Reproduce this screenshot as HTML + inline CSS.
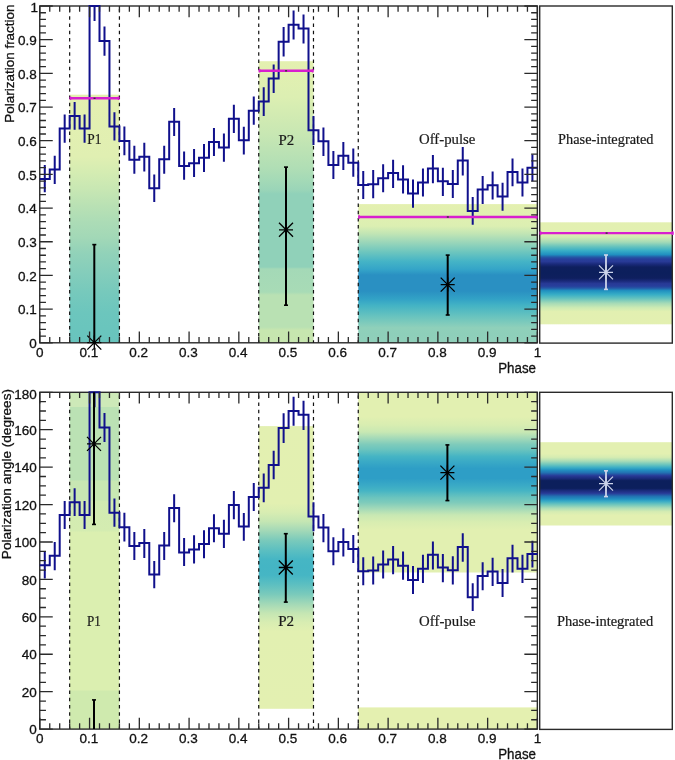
<!DOCTYPE html>
<html><head><meta charset="utf-8"><style>
html,body{margin:0;padding:0;background:#fff;}
svg{display:block;will-change:transform;}

</style></head><body>
<svg width="675" height="760" viewBox="0 0 675 760">
<defs><linearGradient id="gP1t" gradientUnits="userSpaceOnUse" x1="0" y1="94.7" x2="0" y2="342.8"><stop offset="0.0000" stop-color="#e4f0b0"/><stop offset="0.0004" stop-color="#e4f0b0"/><stop offset="0.2503" stop-color="#e0efb2"/><stop offset="0.3148" stop-color="#d4ecb2"/><stop offset="0.3793" stop-color="#c8e7b3"/><stop offset="0.4478" stop-color="#b9e1b4"/><stop offset="0.5123" stop-color="#acdcb6"/><stop offset="0.5768" stop-color="#a2d8b7"/><stop offset="0.6372" stop-color="#92d2b9"/><stop offset="0.7179" stop-color="#84cdbb"/><stop offset="0.7985" stop-color="#76c9bc"/><stop offset="0.8791" stop-color="#6cc6bd"/><stop offset="1.0000" stop-color="#68c4bd"/></linearGradient>
<linearGradient id="gP2t" gradientUnits="userSpaceOnUse" x1="0" y1="61.2" x2="0" y2="342.8"><stop offset="0.0000" stop-color="#e4f0b0"/><stop offset="0.1271" stop-color="#dcefb2"/><stop offset="0.1911" stop-color="#d2ebb2"/><stop offset="0.2585" stop-color="#c8e7b3"/><stop offset="0.3224" stop-color="#bbe2b4"/><stop offset="0.3793" stop-color="#b0deb5"/><stop offset="0.4290" stop-color="#a2d9b7"/><stop offset="0.4574" stop-color="#9ad5b8"/><stop offset="0.4716" stop-color="#90d1b9"/><stop offset="0.5994" stop-color="#90d1b9"/><stop offset="0.7308" stop-color="#90d1b9"/><stop offset="0.7379" stop-color="#a4d9b7"/><stop offset="0.8196" stop-color="#a8dbb6"/><stop offset="0.8303" stop-color="#b9e1b3"/><stop offset="0.9439" stop-color="#b9e1b3"/><stop offset="0.9545" stop-color="#c6e6af"/><stop offset="1.0000" stop-color="#c7e6af"/></linearGradient>
<linearGradient id="gOFt" gradientUnits="userSpaceOnUse" x1="0" y1="204.1" x2="0" y2="342.8"><stop offset="0.0000" stop-color="#e4f0b0"/><stop offset="0.1579" stop-color="#dcefb2"/><stop offset="0.2084" stop-color="#c4e6b4"/><stop offset="0.2588" stop-color="#a5dab8"/><stop offset="0.3439" stop-color="#6ec6be"/><stop offset="0.4124" stop-color="#45b4c6"/><stop offset="0.4722" stop-color="#34a4c8"/><stop offset="0.5112" stop-color="#2a90c2"/><stop offset="0.5689" stop-color="#2a90c2"/><stop offset="0.6265" stop-color="#2a90c2"/><stop offset="0.6842" stop-color="#32a2c6"/><stop offset="0.7347" stop-color="#45b4c4"/><stop offset="0.8140" stop-color="#6ac4be"/><stop offset="0.8911" stop-color="#8fd0ba"/><stop offset="0.9438" stop-color="#8ecfba"/><stop offset="1.0000" stop-color="#90d0ba"/></linearGradient>
<linearGradient id="gPIt" gradientUnits="userSpaceOnUse" x1="0" y1="222.3" x2="0" y2="324.3"><stop offset="0.0000" stop-color="#e3f0b1"/><stop offset="0.1108" stop-color="#e2f0b1"/><stop offset="0.1500" stop-color="#cceab3"/><stop offset="0.1941" stop-color="#a4dab7"/><stop offset="0.2382" stop-color="#66c3be"/><stop offset="0.2775" stop-color="#38aec6"/><stop offset="0.3167" stop-color="#2090c0"/><stop offset="0.3412" stop-color="#2458a6"/><stop offset="0.3608" stop-color="#273f9c"/><stop offset="0.3853" stop-color="#283a96"/><stop offset="0.4098" stop-color="#1a2a7a"/><stop offset="0.4392" stop-color="#0e1f5e"/><stop offset="0.4931" stop-color="#0c1f5c"/><stop offset="0.5471" stop-color="#0e1f5e"/><stop offset="0.5765" stop-color="#1a2a7a"/><stop offset="0.6010" stop-color="#283a96"/><stop offset="0.6255" stop-color="#273f9c"/><stop offset="0.6451" stop-color="#2458a6"/><stop offset="0.6696" stop-color="#2090c0"/><stop offset="0.7088" stop-color="#38aec6"/><stop offset="0.7480" stop-color="#66c3be"/><stop offset="0.7922" stop-color="#a4dab7"/><stop offset="0.8363" stop-color="#cceab3"/><stop offset="0.8755" stop-color="#e2f0b1"/><stop offset="1.0000" stop-color="#e3f0b1"/></linearGradient>
<linearGradient id="gP2b" gradientUnits="userSpaceOnUse" x1="0" y1="426.1" x2="0" y2="708.8"><stop offset="0.0000" stop-color="#e3f0b1"/><stop offset="0.2731" stop-color="#e2f0b1"/><stop offset="0.3049" stop-color="#d8edb2"/><stop offset="0.3368" stop-color="#c5e6b3"/><stop offset="0.3686" stop-color="#a4d9b7"/><stop offset="0.4040" stop-color="#7acabb"/><stop offset="0.4393" stop-color="#5cbfc1"/><stop offset="0.4712" stop-color="#46b6c4"/><stop offset="0.4995" stop-color="#44b5c4"/><stop offset="0.5278" stop-color="#46b6c4"/><stop offset="0.5596" stop-color="#5cbfc1"/><stop offset="0.5950" stop-color="#7acabb"/><stop offset="0.6304" stop-color="#a4d9b7"/><stop offset="0.6622" stop-color="#c5e6b3"/><stop offset="0.6940" stop-color="#d8edb2"/><stop offset="0.7259" stop-color="#e2f0b1"/><stop offset="1.0000" stop-color="#e3f0b1"/></linearGradient>
<linearGradient id="gOFb" gradientUnits="userSpaceOnUse" x1="0" y1="392.3" x2="0" y2="572.5"><stop offset="0.0000" stop-color="#e2f0b1"/><stop offset="0.1343" stop-color="#e2f0b1"/><stop offset="0.1815" stop-color="#d8edb1"/><stop offset="0.2203" stop-color="#c8e8b3"/><stop offset="0.2536" stop-color="#a5dab8"/><stop offset="0.2897" stop-color="#7ecbbb"/><stop offset="0.3174" stop-color="#6ac4be"/><stop offset="0.3563" stop-color="#45b4c4"/><stop offset="0.3840" stop-color="#3aaac6"/><stop offset="0.4229" stop-color="#2e9ec6"/><stop offset="0.4506" stop-color="#2e9ec6"/><stop offset="0.4784" stop-color="#2e9ec6"/><stop offset="0.5172" stop-color="#3aaac6"/><stop offset="0.5450" stop-color="#45b4c4"/><stop offset="0.5838" stop-color="#6ac4be"/><stop offset="0.6115" stop-color="#7ecbbb"/><stop offset="0.6476" stop-color="#a5dab8"/><stop offset="0.6809" stop-color="#c8e8b3"/><stop offset="0.7198" stop-color="#d8edb1"/><stop offset="0.7669" stop-color="#e2f0b1"/><stop offset="1.0000" stop-color="#e2f0b1"/></linearGradient>
<linearGradient id="gPIb" gradientUnits="userSpaceOnUse" x1="0" y1="442.2" x2="0" y2="525.5"><stop offset="0.0000" stop-color="#e3f0b1"/><stop offset="0.1381" stop-color="#e3f0b1"/><stop offset="0.1813" stop-color="#d5ecb2"/><stop offset="0.2245" stop-color="#acddb7"/><stop offset="0.2677" stop-color="#6ec6bd"/><stop offset="0.3085" stop-color="#36aac6"/><stop offset="0.3337" stop-color="#2290c0"/><stop offset="0.3661" stop-color="#2272b2"/><stop offset="0.4022" stop-color="#283a97"/><stop offset="0.4358" stop-color="#1a2b7a"/><stop offset="0.4622" stop-color="#0c1f5c"/><stop offset="0.5078" stop-color="#0c1f5c"/><stop offset="0.5534" stop-color="#0c1f5c"/><stop offset="0.5798" stop-color="#1a2b7a"/><stop offset="0.6134" stop-color="#283a97"/><stop offset="0.6495" stop-color="#2272b2"/><stop offset="0.6819" stop-color="#2290c0"/><stop offset="0.7071" stop-color="#36aac6"/><stop offset="0.7479" stop-color="#6ec6bd"/><stop offset="0.7911" stop-color="#acddb7"/><stop offset="0.8343" stop-color="#d5ecb2"/><stop offset="0.8776" stop-color="#e3f0b1"/><stop offset="1.0000" stop-color="#e3f0b1"/></linearGradient>
<linearGradient id="gP1b" gradientUnits="userSpaceOnUse" x1="0" y1="392.3" x2="0" y2="729.1"><stop offset="-0.0009" stop-color="#cde9b8"/><stop offset="0.0436" stop-color="#cde9b8"/><stop offset="0.0451" stop-color="#bbe2b4"/><stop offset="0.2604" stop-color="#bbe2b4"/><stop offset="0.2634" stop-color="#c8e7b3"/><stop offset="0.3198" stop-color="#c8e7b3"/><stop offset="0.3227" stop-color="#d2ebb2"/><stop offset="0.4118" stop-color="#d4ecb1"/><stop offset="0.4148" stop-color="#dbefb0"/><stop offset="0.8839" stop-color="#dbefb0"/><stop offset="0.8869" stop-color="#cfeaae"/><stop offset="1.0000" stop-color="#cfeaae"/></linearGradient></defs>
<rect x="0" y="0" width="675" height="760" fill="#fff"/>
<rect x="69.66" y="94.7" width="49.76" height="248.1" fill="url(#gP1t)"/>
<rect x="258.74" y="61.2" width="54.74" height="281.6" fill="url(#gP2t)"/>
<rect x="358.26" y="204.1" width="179.09" height="138.7" fill="url(#gOFt)"/>
<rect x="539.7" y="222.3" width="132.6" height="102" fill="url(#gPIt)"/>
<rect x="69.66" y="392.3" width="49.76" height="336.8" fill="url(#gP1b)"/>
<rect x="258.74" y="426.1" width="54.74" height="282.7" fill="url(#gP2b)"/>
<rect x="358.26" y="392.3" width="179.09" height="180.2" fill="url(#gOFb)"/>
<rect x="358.26" y="707.4" width="179.09" height="21.7" fill="#e4f0b0"/>
<rect x="539.7" y="442.2" width="132.6" height="83.3" fill="url(#gPIb)"/>
<rect x="39.75" y="6" width="497.6" height="336.8" fill="none" stroke="#2a2a2a" stroke-width="1.4"/>
<rect x="539.7" y="6" width="132.6" height="337.1" fill="none" stroke="#2a2a2a" stroke-width="1.4"/>
<rect x="39.75" y="392.3" width="497.6" height="336.8" fill="none" stroke="#2a2a2a" stroke-width="1.4"/>
<rect x="539.7" y="392.3" width="132.6" height="337.1" fill="none" stroke="#2a2a2a" stroke-width="1.4"/>
<line x1="69.66" y1="6" x2="69.66" y2="342.8" stroke="#111" stroke-width="1.2" stroke-dasharray="3.5 3.7" stroke-dashoffset="4.1"/>
<line x1="119.42" y1="6" x2="119.42" y2="342.8" stroke="#111" stroke-width="1.2" stroke-dasharray="3.5 3.7" stroke-dashoffset="4.1"/>
<line x1="258.74" y1="6" x2="258.74" y2="342.8" stroke="#111" stroke-width="1.2" stroke-dasharray="3.5 3.7" stroke-dashoffset="4.1"/>
<line x1="313.48" y1="6" x2="313.48" y2="342.8" stroke="#111" stroke-width="1.2" stroke-dasharray="3.5 3.7" stroke-dashoffset="4.1"/>
<line x1="358.26" y1="6" x2="358.26" y2="342.8" stroke="#111" stroke-width="1.2" stroke-dasharray="3.5 3.7" stroke-dashoffset="4.1"/>
<line x1="69.66" y1="392.3" x2="69.66" y2="729.1" stroke="#111" stroke-width="1.2" stroke-dasharray="3.5 3.7" stroke-dashoffset="4.1"/>
<line x1="119.42" y1="392.3" x2="119.42" y2="729.1" stroke="#111" stroke-width="1.2" stroke-dasharray="3.5 3.7" stroke-dashoffset="4.1"/>
<line x1="258.74" y1="392.3" x2="258.74" y2="729.1" stroke="#111" stroke-width="1.2" stroke-dasharray="3.5 3.7" stroke-dashoffset="4.1"/>
<line x1="313.48" y1="392.3" x2="313.48" y2="729.1" stroke="#111" stroke-width="1.2" stroke-dasharray="3.5 3.7" stroke-dashoffset="4.1"/>
<line x1="358.26" y1="392.3" x2="358.26" y2="729.1" stroke="#111" stroke-width="1.2" stroke-dasharray="3.5 3.7" stroke-dashoffset="4.1"/>
<text x="87.3" y="144.1" font-family="'Liberation Serif', serif" font-size="14.2" textLength="14.1" lengthAdjust="spacingAndGlyphs" fill="#1a1a1a" stroke="#1a1a1a" stroke-width="0.2">P1</text>
<text x="278.6" y="144.5" font-family="'Liberation Serif', serif" font-size="14.2" textLength="15.7" lengthAdjust="spacingAndGlyphs" fill="#1a1a1a" stroke="#1a1a1a" stroke-width="0.2">P2</text>
<text x="419" y="143.8" font-family="'Liberation Serif', serif" font-size="14.2" textLength="56.4" lengthAdjust="spacingAndGlyphs" fill="#1a1a1a" stroke="#1a1a1a" stroke-width="0.2">Off-pulse</text>
<text x="558.1" y="144.2" font-family="'Liberation Serif', serif" font-size="14.2" textLength="95.4" lengthAdjust="spacingAndGlyphs" fill="#1a1a1a" stroke="#1a1a1a" stroke-width="0.2">Phase-integrated</text>
<text x="87" y="625.8" font-family="'Liberation Serif', serif" font-size="14.2" textLength="13.8" lengthAdjust="spacingAndGlyphs" fill="#1a1a1a" stroke="#1a1a1a" stroke-width="0.2">P1</text>
<text x="278.2" y="625.9" font-family="'Liberation Serif', serif" font-size="14.2" textLength="15.9" lengthAdjust="spacingAndGlyphs" fill="#1a1a1a" stroke="#1a1a1a" stroke-width="0.2">P2</text>
<text x="419.1" y="625.7" font-family="'Liberation Serif', serif" font-size="14.2" textLength="56.5" lengthAdjust="spacingAndGlyphs" fill="#1a1a1a" stroke="#1a1a1a" stroke-width="0.2">Off-pulse</text>
<text x="556.9" y="625.9" font-family="'Liberation Serif', serif" font-size="14.2" textLength="96.3" lengthAdjust="spacingAndGlyphs" fill="#1a1a1a" stroke="#1a1a1a" stroke-width="0.2">Phase-integrated</text>
<path d="M39.8 179H49.75V169.4H59.7V128.6H69.66V116H79.61V128.6H89.56V6H99.51V41.1H109.46V126.4H119.42V140.9H129.37V159.7H139.32V156.8H149.27V188.3H159.22V159.3H169.18V121.7H179.13V166.1H189.08V163.2H199.03V157.8H208.98V142H218.94V147.4H228.89V118.7H238.84V140.3H248.79V110.7H258.74V101.5H268.7V78.6H278.65V41.8H288.6V24.8H298.55V28.5H308.5V130.3H318.46V141.3H328.41V164.9H338.36V155.7H348.31V162.7H358.26V184.9H368.22V184.2H378.17V178.3H388.12V173.1H398.07V179.5H408.02V193.6H417.98V182.5H427.93V168.4H437.88V181.3H447.83V184H457.78V160.6H467.74V210.9H477.69V189.6H487.64V185.3H497.59V196.6H507.54V171.9H517.5V182.5H527.45V167.7H537.4" fill="none" stroke="#10108c" stroke-width="2" stroke-linejoin="miter"/>
<path d="M44.78 164.9V192.3M54.73 155.7V183.9M64.68 114.6V142.7M74.63 102V129.7M84.58 114.6V142.7M94.54 6V21M104.49 26.6V55.8M114.44 112.3V140.5M124.39 126.4V155.3M134.34 145.7V173.8M144.3 142.7V171.6M154.25 174.6V202M164.2 145.7V173.8M174.15 107.9V136M184.1 151.6V179.7M194.06 148.9V177.1M204.01 143.9V172M213.96 127.9V156M223.91 133.5V161.7M233.86 104.8V133M243.82 126.7V154.4M253.77 96.6V124.7M263.72 87.3V115.9M273.67 64.4V92.9M283.62 27V56.6M293.58 10.4V39.4M303.53 14.5V43.6M313.48 116V144.9M323.43 127.6V156M333.38 150.9V179M343.34 142V170.1M353.29 148.6V176.8M363.24 170.9V199M373.19 170.1V198.3M383.14 164.2V192.3M393.1 159.7V187.9M403.05 165.3V193.4M413 179.6V207.7M422.95 168.4V196.6M432.9 155.1V183.3M442.86 167.7V195.9M452.81 169.9V198.1M462.76 147V175.4M472.71 197V224.7M482.66 175.9V204M492.62 171.4V199.6M502.57 182.8V210.7M512.52 158.5V186.2M522.47 168.4V196.6M532.42 154.4V181.3" fill="none" stroke="#10108c" stroke-width="2"/>
<path d="M39.8 565.3H49.75V555.7H59.7V514.9H69.66V502.3H79.61V514.9H89.56V392.3H99.51V427.4H109.46V512.7H119.42V527.2H129.37V546H139.32V543.1H149.27V574.6H159.22V545.6H169.18V508H179.13V552.4H189.08V549.5H199.03V544.1H208.98V528.3H218.94V533.7H228.89V505H238.84V526.6H248.79V497H258.74V487.8H268.7V464.9H278.65V428.1H288.6V411.1H298.55V414.8H308.5V516.6H318.46V527.6H328.41V551.2H338.36V542H348.31V549H358.26V571.2H368.22V570.5H378.17V564.6H388.12V559.4H398.07V565.8H408.02V579.9H417.98V568.8H427.93V554.7H437.88V567.6H447.83V570.3H457.78V546.9H467.74V597.2H477.69V575.9H487.64V571.6H497.59V582.9H507.54V558.2H517.5V568.8H527.45V554H537.4" fill="none" stroke="#10108c" stroke-width="2" stroke-linejoin="miter"/>
<path d="M44.78 551.2V578.6M54.73 542V570.2M64.68 500.9V529M74.63 488.3V516M84.58 500.9V529M94.54 392.3V407.3M104.49 412.9V442.1M114.44 498.6V526.8M124.39 512.7V541.6M134.34 532V560.1M144.3 529V557.9M154.25 560.9V588.3M164.2 532V560.1M174.15 494.2V522.3M184.1 537.9V566M194.06 535.2V563.4M204.01 530.2V558.3M213.96 514.2V542.3M223.91 519.8V548M233.86 491.1V519.3M243.82 513V540.7M253.77 482.9V511M263.72 473.6V502.2M273.67 450.7V479.2M283.62 413.3V442.9M293.58 396.7V425.7M303.53 400.8V429.9M313.48 502.3V531.2M323.43 513.9V542.3M333.38 537.2V565.3M343.34 528.3V556.4M353.29 534.9V563.1M363.24 557.2V585.3M373.19 556.4V584.6M383.14 550.5V578.6M393.1 546V574.2M403.05 551.6V579.7M413 565.9V594M422.95 554.7V582.9M432.9 541.4V569.6M442.86 554V582.2M452.81 556.2V584.4M462.76 533.3V561.7M472.71 583.3V611M482.66 562.2V590.3M492.62 557.7V585.9M502.57 569.1V597M512.52 544.8V572.5M522.47 554.7V582.9M532.42 540.7V567.6" fill="none" stroke="#10108c" stroke-width="2"/>
<line x1="69.66" y1="98.3" x2="119.42" y2="98.3" stroke="#d81ecf" stroke-width="2.4"/>
<path d="M70.46 96.5v3.6M118.62 96.5v3.6" stroke="#d81ecf" stroke-width="1.6"/>
<rect x="93.54" y="97.6" width="2" height="1.4" fill="#333"/>
<line x1="258.74" y1="70.8" x2="313.48" y2="70.8" stroke="#d81ecf" stroke-width="2.4"/>
<path d="M259.54 69v3.6M312.68 69v3.6" stroke="#d81ecf" stroke-width="1.6"/>
<rect x="285.11" y="70.1" width="2" height="1.4" fill="#333"/>
<line x1="358.26" y1="217" x2="537.35" y2="217" stroke="#d81ecf" stroke-width="2.4"/>
<path d="M359.06 215.2v3.6M536.55 215.2v3.6" stroke="#d81ecf" stroke-width="1.6"/>
<rect x="446.81" y="216.3" width="2" height="1.4" fill="#333"/>
<line x1="539.7" y1="233.1" x2="673.5" y2="233.1" stroke="#d81ecf" stroke-width="2.4"/>
<path d="M540.5 231.3v3.6M672.7 231.3v3.6" stroke="#d81ecf" stroke-width="1.6"/>
<rect x="605.6" y="232.4" width="2" height="1.4" fill="#333"/>
<line x1="94.3" y1="244.6" x2="94.3" y2="342.8" stroke="#000" stroke-width="2"/><line x1="92.3" y1="244.6" x2="96.3" y2="244.6" stroke="#000" stroke-width="1.6"/><path d="M87.3 342.6H101.3M87.3 335.6L101.3 349.6M87.3 349.6L101.3 335.6M94.3 335.6V349.6" stroke="#000" stroke-width="1.3" fill="none"/>
<line x1="286" y1="167.1" x2="286" y2="305.2" stroke="#000" stroke-width="2"/><line x1="284" y1="167.1" x2="288" y2="167.1" stroke="#000" stroke-width="1.6"/><line x1="284" y1="305.2" x2="288" y2="305.2" stroke="#000" stroke-width="1.6"/><path d="M279 229.8H293M279 222.8L293 236.8M279 236.8L293 222.8M286 222.8V236.8" stroke="#000" stroke-width="1.3" fill="none"/>
<line x1="447.7" y1="255.1" x2="447.7" y2="315" stroke="#000" stroke-width="2"/><line x1="445.7" y1="255.1" x2="449.7" y2="255.1" stroke="#000" stroke-width="1.6"/><line x1="445.7" y1="315" x2="449.7" y2="315" stroke="#000" stroke-width="1.6"/><path d="M440.7 284.6H454.7M440.7 277.6L454.7 291.6M440.7 291.6L454.7 277.6M447.7 277.6V291.6" stroke="#000" stroke-width="1.3" fill="none"/>
<line x1="606" y1="255" x2="606" y2="289.4" stroke="#ccd4ea" stroke-width="1.8"/><line x1="604" y1="255" x2="608" y2="255" stroke="#ccd4ea" stroke-width="1.6"/><line x1="604" y1="289.4" x2="608" y2="289.4" stroke="#ccd4ea" stroke-width="1.6"/><path d="M599 272.3H613M599 265.3L613 279.3M599 279.3L613 265.3M606 265.3V279.3" stroke="#ccd4ea" stroke-width="1.2" fill="none"/>
<line x1="94" y1="392.3" x2="94" y2="524.4" stroke="#000" stroke-width="2"/><line x1="92" y1="524.4" x2="96" y2="524.4" stroke="#000" stroke-width="1.6"/><path d="M87 443.9H101M87 436.9L101 450.9M87 450.9L101 436.9M94 436.9V450.9" stroke="#000" stroke-width="1.3" fill="none"/>
<line x1="94" y1="699.9" x2="94" y2="729.1" stroke="#000" stroke-width="2"/><line x1="92" y1="699.9" x2="96" y2="699.9" stroke="#000" stroke-width="1.6"/>
<line x1="285.8" y1="533.7" x2="285.8" y2="602.1" stroke="#000" stroke-width="2"/><line x1="283.8" y1="533.7" x2="287.8" y2="533.7" stroke="#000" stroke-width="1.6"/><line x1="283.8" y1="602.1" x2="287.8" y2="602.1" stroke="#000" stroke-width="1.6"/><path d="M278.8 567.5H292.8M278.8 560.5L292.8 574.5M278.8 574.5L292.8 560.5M285.8 560.5V574.5" stroke="#000" stroke-width="1.3" fill="none"/>
<line x1="447.4" y1="444.9" x2="447.4" y2="500.6" stroke="#000" stroke-width="2"/><line x1="445.4" y1="444.9" x2="449.4" y2="444.9" stroke="#000" stroke-width="1.6"/><line x1="445.4" y1="500.6" x2="449.4" y2="500.6" stroke="#000" stroke-width="1.6"/><path d="M440.4 472.6H454.4M440.4 465.6L454.4 479.6M440.4 479.6L454.4 465.6M447.4 465.6V479.6" stroke="#000" stroke-width="1.3" fill="none"/>
<line x1="606" y1="470.8" x2="606" y2="496.6" stroke="#ccd4ea" stroke-width="1.8"/><line x1="604" y1="470.8" x2="608" y2="470.8" stroke="#ccd4ea" stroke-width="1.6"/><line x1="604" y1="496.6" x2="608" y2="496.6" stroke="#ccd4ea" stroke-width="1.6"/><path d="M599 483.6H613M599 476.6L613 490.6M599 490.6L613 476.6M606 476.6V490.6" stroke="#ccd4ea" stroke-width="1.2" fill="none"/>
<path d="M39.8 342.8v-11.3M39.8 6v11.3M49.75 342.8v-5.8M49.75 6v5.8M59.7 342.8v-5.8M59.7 6v5.8M69.66 342.8v-5.8M69.66 6v5.8M79.61 342.8v-5.8M79.61 6v5.8M89.56 342.8v-11.3M89.56 6v11.3M99.51 342.8v-5.8M99.51 6v5.8M109.46 342.8v-5.8M109.46 6v5.8M119.42 342.8v-5.8M119.42 6v5.8M129.37 342.8v-5.8M129.37 6v5.8M139.32 342.8v-11.3M139.32 6v11.3M149.27 342.8v-5.8M149.27 6v5.8M159.22 342.8v-5.8M159.22 6v5.8M169.18 342.8v-5.8M169.18 6v5.8M179.13 342.8v-5.8M179.13 6v5.8M189.08 342.8v-11.3M189.08 6v11.3M199.03 342.8v-5.8M199.03 6v5.8M208.98 342.8v-5.8M208.98 6v5.8M218.94 342.8v-5.8M218.94 6v5.8M228.89 342.8v-5.8M228.89 6v5.8M238.84 342.8v-11.3M238.84 6v11.3M248.79 342.8v-5.8M248.79 6v5.8M258.74 342.8v-5.8M258.74 6v5.8M268.7 342.8v-5.8M268.7 6v5.8M278.65 342.8v-5.8M278.65 6v5.8M288.6 342.8v-11.3M288.6 6v11.3M298.55 342.8v-5.8M298.55 6v5.8M308.5 342.8v-5.8M308.5 6v5.8M318.46 342.8v-5.8M318.46 6v5.8M328.41 342.8v-5.8M328.41 6v5.8M338.36 342.8v-11.3M338.36 6v11.3M348.31 342.8v-5.8M348.31 6v5.8M358.26 342.8v-5.8M358.26 6v5.8M368.22 342.8v-5.8M368.22 6v5.8M378.17 342.8v-5.8M378.17 6v5.8M388.12 342.8v-11.3M388.12 6v11.3M398.07 342.8v-5.8M398.07 6v5.8M408.02 342.8v-5.8M408.02 6v5.8M417.98 342.8v-5.8M417.98 6v5.8M427.93 342.8v-5.8M427.93 6v5.8M437.88 342.8v-11.3M437.88 6v11.3M447.83 342.8v-5.8M447.83 6v5.8M457.78 342.8v-5.8M457.78 6v5.8M467.74 342.8v-5.8M467.74 6v5.8M477.69 342.8v-5.8M477.69 6v5.8M487.64 342.8v-11.3M487.64 6v11.3M497.59 342.8v-5.8M497.59 6v5.8M507.54 342.8v-5.8M507.54 6v5.8M517.5 342.8v-5.8M517.5 6v5.8M527.45 342.8v-5.8M527.45 6v5.8M537.4 342.8v-11.3M537.4 6v11.3M39.75 342.8h13M537.35 342.8h-13M39.75 336.06h6.2M537.35 336.06h-6.2M39.75 329.33h6.2M537.35 329.33h-6.2M39.75 322.59h6.2M537.35 322.59h-6.2M39.75 315.86h6.2M537.35 315.86h-6.2M39.75 309.12h13M537.35 309.12h-13M39.75 302.38h6.2M537.35 302.38h-6.2M39.75 295.65h6.2M537.35 295.65h-6.2M39.75 288.91h6.2M537.35 288.91h-6.2M39.75 282.18h6.2M537.35 282.18h-6.2M39.75 275.44h13M537.35 275.44h-13M39.75 268.7h6.2M537.35 268.7h-6.2M39.75 261.97h6.2M537.35 261.97h-6.2M39.75 255.23h6.2M537.35 255.23h-6.2M39.75 248.5h6.2M537.35 248.5h-6.2M39.75 241.76h13M537.35 241.76h-13M39.75 235.02h6.2M537.35 235.02h-6.2M39.75 228.29h6.2M537.35 228.29h-6.2M39.75 221.55h6.2M537.35 221.55h-6.2M39.75 214.82h6.2M537.35 214.82h-6.2M39.75 208.08h13M537.35 208.08h-13M39.75 201.34h6.2M537.35 201.34h-6.2M39.75 194.61h6.2M537.35 194.61h-6.2M39.75 187.87h6.2M537.35 187.87h-6.2M39.75 181.14h6.2M537.35 181.14h-6.2M39.75 174.4h13M537.35 174.4h-13M39.75 167.66h6.2M537.35 167.66h-6.2M39.75 160.93h6.2M537.35 160.93h-6.2M39.75 154.19h6.2M537.35 154.19h-6.2M39.75 147.46h6.2M537.35 147.46h-6.2M39.75 140.72h13M537.35 140.72h-13M39.75 133.98h6.2M537.35 133.98h-6.2M39.75 127.25h6.2M537.35 127.25h-6.2M39.75 120.51h6.2M537.35 120.51h-6.2M39.75 113.78h6.2M537.35 113.78h-6.2M39.75 107.04h13M537.35 107.04h-13M39.75 100.3h6.2M537.35 100.3h-6.2M39.75 93.57h6.2M537.35 93.57h-6.2M39.75 86.83h6.2M537.35 86.83h-6.2M39.75 80.1h6.2M537.35 80.1h-6.2M39.75 73.36h13M537.35 73.36h-13M39.75 66.62h6.2M537.35 66.62h-6.2M39.75 59.89h6.2M537.35 59.89h-6.2M39.75 53.15h6.2M537.35 53.15h-6.2M39.75 46.42h6.2M537.35 46.42h-6.2M39.75 39.68h13M537.35 39.68h-13M39.75 32.94h6.2M537.35 32.94h-6.2M39.75 26.21h6.2M537.35 26.21h-6.2M39.75 19.47h6.2M537.35 19.47h-6.2M39.75 12.74h6.2M537.35 12.74h-6.2M39.75 6h13M537.35 6h-13" stroke="#2a2a2a" stroke-width="1.3" fill="none"/>
<path d="M39.8 729.1v-11.3M39.8 392.3v11.3M49.75 729.1v-5.8M49.75 392.3v5.8M59.7 729.1v-5.8M59.7 392.3v5.8M69.66 729.1v-5.8M69.66 392.3v5.8M79.61 729.1v-5.8M79.61 392.3v5.8M89.56 729.1v-11.3M89.56 392.3v11.3M99.51 729.1v-5.8M99.51 392.3v5.8M109.46 729.1v-5.8M109.46 392.3v5.8M119.42 729.1v-5.8M119.42 392.3v5.8M129.37 729.1v-5.8M129.37 392.3v5.8M139.32 729.1v-11.3M139.32 392.3v11.3M149.27 729.1v-5.8M149.27 392.3v5.8M159.22 729.1v-5.8M159.22 392.3v5.8M169.18 729.1v-5.8M169.18 392.3v5.8M179.13 729.1v-5.8M179.13 392.3v5.8M189.08 729.1v-11.3M189.08 392.3v11.3M199.03 729.1v-5.8M199.03 392.3v5.8M208.98 729.1v-5.8M208.98 392.3v5.8M218.94 729.1v-5.8M218.94 392.3v5.8M228.89 729.1v-5.8M228.89 392.3v5.8M238.84 729.1v-11.3M238.84 392.3v11.3M248.79 729.1v-5.8M248.79 392.3v5.8M258.74 729.1v-5.8M258.74 392.3v5.8M268.7 729.1v-5.8M268.7 392.3v5.8M278.65 729.1v-5.8M278.65 392.3v5.8M288.6 729.1v-11.3M288.6 392.3v11.3M298.55 729.1v-5.8M298.55 392.3v5.8M308.5 729.1v-5.8M308.5 392.3v5.8M318.46 729.1v-5.8M318.46 392.3v5.8M328.41 729.1v-5.8M328.41 392.3v5.8M338.36 729.1v-11.3M338.36 392.3v11.3M348.31 729.1v-5.8M348.31 392.3v5.8M358.26 729.1v-5.8M358.26 392.3v5.8M368.22 729.1v-5.8M368.22 392.3v5.8M378.17 729.1v-5.8M378.17 392.3v5.8M388.12 729.1v-11.3M388.12 392.3v11.3M398.07 729.1v-5.8M398.07 392.3v5.8M408.02 729.1v-5.8M408.02 392.3v5.8M417.98 729.1v-5.8M417.98 392.3v5.8M427.93 729.1v-5.8M427.93 392.3v5.8M437.88 729.1v-11.3M437.88 392.3v11.3M447.83 729.1v-5.8M447.83 392.3v5.8M457.78 729.1v-5.8M457.78 392.3v5.8M467.74 729.1v-5.8M467.74 392.3v5.8M477.69 729.1v-5.8M477.69 392.3v5.8M487.64 729.1v-11.3M487.64 392.3v11.3M497.59 729.1v-5.8M497.59 392.3v5.8M507.54 729.1v-5.8M507.54 392.3v5.8M517.5 729.1v-5.8M517.5 392.3v5.8M527.45 729.1v-5.8M527.45 392.3v5.8M537.4 729.1v-11.3M537.4 392.3v11.3M39.75 729.1h13M537.35 729.1h-13M39.75 719.74h6.2M537.35 719.74h-6.2M39.75 710.39h6.2M537.35 710.39h-6.2M39.75 701.03h6.2M537.35 701.03h-6.2M39.75 691.68h13M537.35 691.68h-13M39.75 682.32h6.2M537.35 682.32h-6.2M39.75 672.97h6.2M537.35 672.97h-6.2M39.75 663.61h6.2M537.35 663.61h-6.2M39.75 654.26h13M537.35 654.26h-13M39.75 644.9h6.2M537.35 644.9h-6.2M39.75 635.54h6.2M537.35 635.54h-6.2M39.75 626.19h6.2M537.35 626.19h-6.2M39.75 616.83h13M537.35 616.83h-13M39.75 607.48h6.2M537.35 607.48h-6.2M39.75 598.12h6.2M537.35 598.12h-6.2M39.75 588.77h6.2M537.35 588.77h-6.2M39.75 579.41h13M537.35 579.41h-13M39.75 570.06h6.2M537.35 570.06h-6.2M39.75 560.7h6.2M537.35 560.7h-6.2M39.75 551.34h6.2M537.35 551.34h-6.2M39.75 541.99h13M537.35 541.99h-13M39.75 532.63h6.2M537.35 532.63h-6.2M39.75 523.28h6.2M537.35 523.28h-6.2M39.75 513.92h6.2M537.35 513.92h-6.2M39.75 504.57h13M537.35 504.57h-13M39.75 495.21h6.2M537.35 495.21h-6.2M39.75 485.86h6.2M537.35 485.86h-6.2M39.75 476.5h6.2M537.35 476.5h-6.2M39.75 467.14h13M537.35 467.14h-13M39.75 457.79h6.2M537.35 457.79h-6.2M39.75 448.43h6.2M537.35 448.43h-6.2M39.75 439.08h6.2M537.35 439.08h-6.2M39.75 429.72h13M537.35 429.72h-13M39.75 420.37h6.2M537.35 420.37h-6.2M39.75 411.01h6.2M537.35 411.01h-6.2M39.75 401.66h6.2M537.35 401.66h-6.2M39.75 392.3h13M537.35 392.3h-13" stroke="#2a2a2a" stroke-width="1.3" fill="none"/>
<text x="39.8" y="356.9" font-family="'Liberation Sans', sans-serif" font-size="13.5" text-anchor="middle" fill="#111" stroke="#111" stroke-width="0.3">0</text>
<text x="88.96" y="356.9" font-family="'Liberation Sans', sans-serif" font-size="13.5" text-anchor="middle" fill="#111" stroke="#111" stroke-width="0.3">0.1</text>
<text x="138.72" y="356.9" font-family="'Liberation Sans', sans-serif" font-size="13.5" text-anchor="middle" fill="#111" stroke="#111" stroke-width="0.3">0.2</text>
<text x="188.48" y="356.9" font-family="'Liberation Sans', sans-serif" font-size="13.5" text-anchor="middle" fill="#111" stroke="#111" stroke-width="0.3">0.3</text>
<text x="238.24" y="356.9" font-family="'Liberation Sans', sans-serif" font-size="13.5" text-anchor="middle" fill="#111" stroke="#111" stroke-width="0.3">0.4</text>
<text x="288" y="356.9" font-family="'Liberation Sans', sans-serif" font-size="13.5" text-anchor="middle" fill="#111" stroke="#111" stroke-width="0.3">0.5</text>
<text x="337.76" y="356.9" font-family="'Liberation Sans', sans-serif" font-size="13.5" text-anchor="middle" fill="#111" stroke="#111" stroke-width="0.3">0.6</text>
<text x="387.52" y="356.9" font-family="'Liberation Sans', sans-serif" font-size="13.5" text-anchor="middle" fill="#111" stroke="#111" stroke-width="0.3">0.7</text>
<text x="437.28" y="356.9" font-family="'Liberation Sans', sans-serif" font-size="13.5" text-anchor="middle" fill="#111" stroke="#111" stroke-width="0.3">0.8</text>
<text x="487.04" y="356.9" font-family="'Liberation Sans', sans-serif" font-size="13.5" text-anchor="middle" fill="#111" stroke="#111" stroke-width="0.3">0.9</text>
<text x="537.4" y="356.9" font-family="'Liberation Sans', sans-serif" font-size="13.5" text-anchor="middle" fill="#111" stroke="#111" stroke-width="0.3">1</text>
<text x="498.2" y="372.5" font-family="'Liberation Sans', sans-serif" font-size="13.8" textLength="37.8" lengthAdjust="spacingAndGlyphs" fill="#111" stroke="#111" stroke-width="0.3">Phase</text>
<text x="39.8" y="743.2" font-family="'Liberation Sans', sans-serif" font-size="13.5" text-anchor="middle" fill="#111" stroke="#111" stroke-width="0.3">0</text>
<text x="88.96" y="743.2" font-family="'Liberation Sans', sans-serif" font-size="13.5" text-anchor="middle" fill="#111" stroke="#111" stroke-width="0.3">0.1</text>
<text x="138.72" y="743.2" font-family="'Liberation Sans', sans-serif" font-size="13.5" text-anchor="middle" fill="#111" stroke="#111" stroke-width="0.3">0.2</text>
<text x="188.48" y="743.2" font-family="'Liberation Sans', sans-serif" font-size="13.5" text-anchor="middle" fill="#111" stroke="#111" stroke-width="0.3">0.3</text>
<text x="238.24" y="743.2" font-family="'Liberation Sans', sans-serif" font-size="13.5" text-anchor="middle" fill="#111" stroke="#111" stroke-width="0.3">0.4</text>
<text x="288" y="743.2" font-family="'Liberation Sans', sans-serif" font-size="13.5" text-anchor="middle" fill="#111" stroke="#111" stroke-width="0.3">0.5</text>
<text x="337.76" y="743.2" font-family="'Liberation Sans', sans-serif" font-size="13.5" text-anchor="middle" fill="#111" stroke="#111" stroke-width="0.3">0.6</text>
<text x="387.52" y="743.2" font-family="'Liberation Sans', sans-serif" font-size="13.5" text-anchor="middle" fill="#111" stroke="#111" stroke-width="0.3">0.7</text>
<text x="437.28" y="743.2" font-family="'Liberation Sans', sans-serif" font-size="13.5" text-anchor="middle" fill="#111" stroke="#111" stroke-width="0.3">0.8</text>
<text x="487.04" y="743.2" font-family="'Liberation Sans', sans-serif" font-size="13.5" text-anchor="middle" fill="#111" stroke="#111" stroke-width="0.3">0.9</text>
<text x="537.4" y="743.2" font-family="'Liberation Sans', sans-serif" font-size="13.5" text-anchor="middle" fill="#111" stroke="#111" stroke-width="0.3">1</text>
<text x="498.2" y="758.8" font-family="'Liberation Sans', sans-serif" font-size="13.8" textLength="37.8" lengthAdjust="spacingAndGlyphs" fill="#111" stroke="#111" stroke-width="0.3">Phase</text>
<text x="36.7" y="348" font-family="'Liberation Sans', sans-serif" font-size="13.5" text-anchor="end" fill="#111" stroke="#111" stroke-width="0.3">0</text>
<text x="36.7" y="314.32" font-family="'Liberation Sans', sans-serif" font-size="13.5" text-anchor="end" fill="#111" stroke="#111" stroke-width="0.3">0.1</text>
<text x="36.7" y="280.64" font-family="'Liberation Sans', sans-serif" font-size="13.5" text-anchor="end" fill="#111" stroke="#111" stroke-width="0.3">0.2</text>
<text x="36.7" y="246.96" font-family="'Liberation Sans', sans-serif" font-size="13.5" text-anchor="end" fill="#111" stroke="#111" stroke-width="0.3">0.3</text>
<text x="36.7" y="213.28" font-family="'Liberation Sans', sans-serif" font-size="13.5" text-anchor="end" fill="#111" stroke="#111" stroke-width="0.3">0.4</text>
<text x="36.7" y="179.6" font-family="'Liberation Sans', sans-serif" font-size="13.5" text-anchor="end" fill="#111" stroke="#111" stroke-width="0.3">0.5</text>
<text x="36.7" y="145.92" font-family="'Liberation Sans', sans-serif" font-size="13.5" text-anchor="end" fill="#111" stroke="#111" stroke-width="0.3">0.6</text>
<text x="36.7" y="112.24" font-family="'Liberation Sans', sans-serif" font-size="13.5" text-anchor="end" fill="#111" stroke="#111" stroke-width="0.3">0.7</text>
<text x="36.7" y="78.56" font-family="'Liberation Sans', sans-serif" font-size="13.5" text-anchor="end" fill="#111" stroke="#111" stroke-width="0.3">0.8</text>
<text x="36.7" y="44.88" font-family="'Liberation Sans', sans-serif" font-size="13.5" text-anchor="end" fill="#111" stroke="#111" stroke-width="0.3">0.9</text>
<text x="37.9" y="12.2" font-family="'Liberation Sans', sans-serif" font-size="13.5" text-anchor="end" fill="#111" stroke="#111" stroke-width="0.3">1</text>
<text x="36.7" y="734.3" font-family="'Liberation Sans', sans-serif" font-size="13.5" text-anchor="end" fill="#111" stroke="#111" stroke-width="0.3">0</text>
<text x="36.7" y="696.88" font-family="'Liberation Sans', sans-serif" font-size="13.5" text-anchor="end" fill="#111" stroke="#111" stroke-width="0.3">20</text>
<text x="36.7" y="659.46" font-family="'Liberation Sans', sans-serif" font-size="13.5" text-anchor="end" fill="#111" stroke="#111" stroke-width="0.3">40</text>
<text x="36.7" y="622.03" font-family="'Liberation Sans', sans-serif" font-size="13.5" text-anchor="end" fill="#111" stroke="#111" stroke-width="0.3">60</text>
<text x="36.7" y="584.61" font-family="'Liberation Sans', sans-serif" font-size="13.5" text-anchor="end" fill="#111" stroke="#111" stroke-width="0.3">80</text>
<text x="36.7" y="547.19" font-family="'Liberation Sans', sans-serif" font-size="13.5" text-anchor="end" fill="#111" stroke="#111" stroke-width="0.3">100</text>
<text x="36.7" y="509.77" font-family="'Liberation Sans', sans-serif" font-size="13.5" text-anchor="end" fill="#111" stroke="#111" stroke-width="0.3">120</text>
<text x="36.7" y="472.34" font-family="'Liberation Sans', sans-serif" font-size="13.5" text-anchor="end" fill="#111" stroke="#111" stroke-width="0.3">140</text>
<text x="36.7" y="434.92" font-family="'Liberation Sans', sans-serif" font-size="13.5" text-anchor="end" fill="#111" stroke="#111" stroke-width="0.3">160</text>
<text x="36.7" y="398.8" font-family="'Liberation Sans', sans-serif" font-size="13.5" text-anchor="end" fill="#111" stroke="#111" stroke-width="0.3">180</text>
<text transform="translate(14.4,122.8) rotate(-90)" font-family="'Liberation Sans', sans-serif" font-size="13.5" textLength="118.4" lengthAdjust="spacingAndGlyphs" fill="#111" stroke="#111" stroke-width="0.3">Polarization fraction</text>
<text transform="translate(10.6,559.2) rotate(-90)" font-family="'Liberation Sans', sans-serif" font-size="13.7" textLength="170.2" lengthAdjust="spacingAndGlyphs" fill="#111" stroke="#111" stroke-width="0.3">Polarization angle (degrees)</text>
</svg>
</body></html>
